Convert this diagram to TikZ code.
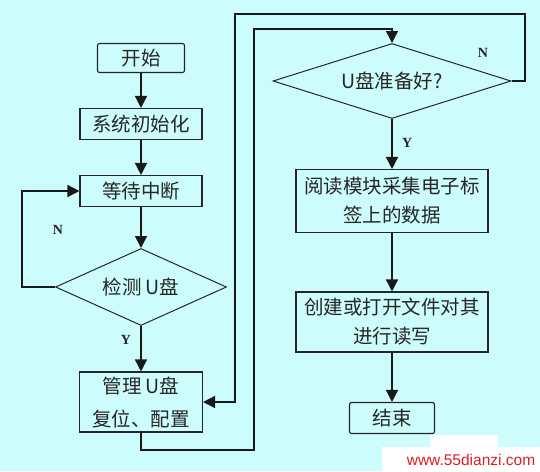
\documentclass[tikz,border=0pt]{standalone}
\usepackage{fontspec}
\setmainfont{Liberation Serif}
\newfontfamily\cjk{Noto Sans CJK SC}
\newfontfamily\wmfont{Liberation Sans}
\usetikzlibrary{shapes.geometric,arrows.meta}
\definecolor{bgcyan}{RGB}{204,252,252}
\definecolor{wmred}{RGB}{220,30,30}
\begin{document}
\begin{tikzpicture}[x=1pt,y=-1pt,
  txt/.style={font=\cjk\fontsize{19.5}{29}\selectfont, text=black!85, align=center, inner sep=0pt},
  procbox/.style={txt, draw=black!85, line width=1.1pt, fill=bgcyan},
  termbox/.style={procbox, rounded corners=2pt},
  decision/.style={txt, diamond, shape aspect=3.1, draw=black!85, line width=1pt, fill=bgcyan, inner sep=0pt},
  flow/.style={draw=black!90, line width=1.5pt},
  arr/.style={flow, -{Triangle[length=12pt,width=12pt]}},
  lbl/.style={font=\bfseries\fontsize{14}{14}\selectfont, text=black!85}
]
\fill[bgcyan] (0,0) rectangle (540,471);

% left column
\node[termbox, minimum width=87pt, minimum height=29pt] (start) at (141,58) {开始};
\node[procbox, minimum width=122pt, minimum height=31pt] (init) at (141,124) {系统初始化};
\node[procbox, minimum width=122pt, minimum height=31pt] (wait) at (141,191) {等待中断};
\node[decision, minimum width=171pt, minimum height=77pt] (detect) at (141,287) {检测 U盘};
\node[procbox, minimum width=123pt, minimum height=60pt, font=\cjk\fontsize{19.5}{33}\selectfont] (manage) at (141,402) {管理 U盘\\复位、配置};

% right column
\node[decision, minimum width=238pt, minimum height=75pt] (ready) at (392,81) {U盘准备好?};
\node[procbox, minimum width=192pt, minimum height=63pt] (read) at (392,201) {阅读模块采集电子标\\签上的数据};
\node[procbox, minimum width=192pt, minimum height=60pt] (create) at (392,322) {创建或打开文件对其\\进行读写};
\node[termbox, minimum width=85pt, minimum height=31pt] (end) at (392,418) {结束};

% helper coordinates
\coordinate (lA) at (22,287);
\coordinate (mB) at (141,450);
\coordinate (mC) at (254,450);
\coordinate (mD) at (254,29);
\coordinate (rA) at (525,81);
\coordinate (rB) at (525,14);
\coordinate (rC) at (235,14);

% connectors
\draw[arr] (start) -- (init);
\draw[arr] (init) -- (wait);
\draw[arr] (wait) -- (detect.north);
\draw[arr] (detect.south) -- node[lbl, left=6pt, pos=0.3] {Y} (manage.north);
\draw[arr] (detect.west) -- (lA) |- (wait.west);
\draw[arr] (manage.south) -- (mB) -- (mC) -- (mD) -| (ready.north);
\draw[arr] (ready.east) -- (rA) -- (rB) -- (rC) |- (manage.east);
\draw[arr] (ready.south) -- node[lbl, right=6pt, pos=0.48] {Y} (read.north);
\draw[arr] (read) -- (create);
\draw[arr] (create) -- (end);

\node[lbl] (nl) at (58,230) {N};
\node[lbl] (nr) at (483,53) {N};

% watermark
\fill[white] (382,447) rectangle (540,471);
\fill[white] (430,435) rectangle (498,447);
\node[font=\wmfont\fontsize{15.5}{15.5}\selectfont, text=wmred, inner sep=0pt] (wm) at (471,460) {www.55dianzi.com};
\end{tikzpicture}
\end{document}
